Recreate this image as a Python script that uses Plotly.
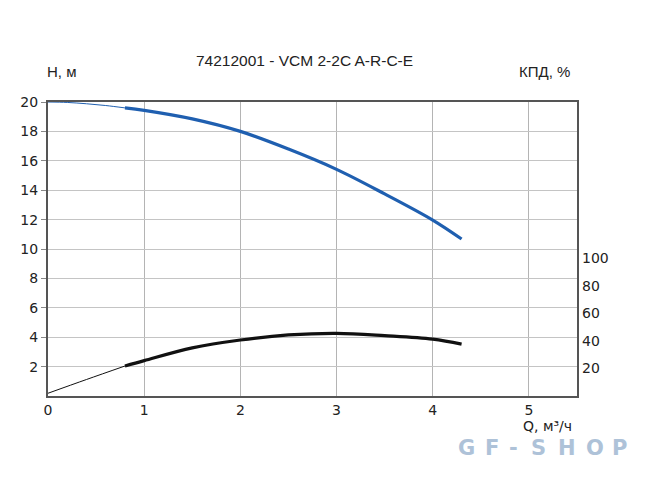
import plotly.graph_objects as go

# Head curve H, m
q_head_thin = [0.0, 0.2, 0.4, 0.6, 0.8]
h_head_thin = [20.0, 19.97, 19.88, 19.76, 19.6]
q_head = [0.8, 1.0, 1.5, 2.0, 2.5, 3.0, 3.5, 4.0, 4.3]
h_head = [19.6, 19.43, 18.85, 18.0, 16.8, 15.42, 13.75, 11.97, 10.68]

# Efficiency curve, %
q_eff_thin = [0.0, 0.4, 0.8]
eff_thin = [2.0, 12.0, 21.8]
q_eff = [0.8, 1.0, 1.5, 2.0, 2.5, 3.0, 3.5, 4.0, 4.3]
eff = [21.8, 25.7, 35.0, 40.7, 44.4, 45.6, 43.9, 41.3, 37.7]

x_ticks = [0, 1, 2, 3, 4, 5]
y_ticks = [2, 4, 6, 8, 10, 12, 14, 16, 18, 20]
y2_ticks = [20, 40, 60, 80, 100]

title = "74212001 - VCM 2-2C A-R-C-E"
watermark = "GF-SHOP"

W, H = 650, 486
L, R, T, B = 48, 73, 102, 90
PW, PH = W - L - R, H - T - B

BLUE = "#1f5fb0"
fig = go.Figure()
fig.add_trace(go.Scatter(x=q_head_thin, y=h_head_thin, mode="lines",
                         line=dict(color=BLUE, width=1, shape="spline"), showlegend=False))
fig.add_trace(go.Scatter(x=q_head, y=h_head, mode="lines",
                         line=dict(color=BLUE, width=3.2, shape="spline"), showlegend=False))
fig.add_trace(go.Scatter(x=q_eff_thin, y=eff_thin, mode="lines", yaxis="y2",
                         line=dict(color="#111111", width=1, shape="spline"), showlegend=False))
fig.add_trace(go.Scatter(x=q_eff, y=eff, mode="lines", yaxis="y2",
                         line=dict(color="#111111", width=3.2, shape="spline"), showlegend=False))

tick_font = dict(family="DejaVu Sans", size=14, color="#222222")
fig.update_layout(
    width=W, height=H,
    margin=dict(l=L, r=R, t=T, b=B, autoexpand=False),
    paper_bgcolor="white", plot_bgcolor="white",
    xaxis=dict(range=[0, 5.5], tickvals=x_ticks, showgrid=True, gridcolor="#b4b4b4", gridwidth=1,
               showline=True, linecolor="#555555", linewidth=2, mirror=True, zeroline=False,
               ticks="", tickfont=tick_font, fixedrange=True, automargin=False),
    yaxis=dict(range=[0, 20], tickvals=y_ticks, showgrid=True, gridcolor="#c4c4c4", gridwidth=1,
               showline=True, linecolor="#555555", linewidth=2, mirror=True, zeroline=False,
               ticks="outside", ticklen=5, tickcolor="#888888", tickfont=tick_font, fixedrange=True,
               automargin=False),
    yaxis2=dict(range=[0, 213.8], tickvals=y2_ticks, overlaying="y", side="right",
                showgrid=False, showline=False, zeroline=False, ticks="", ticklabelstandoff=4,
                tickfont=tick_font, fixedrange=True, automargin=False),
)


def px(xp, yp):
    return (xp - L) / PW, (H - B - yp) / PH


ann = [
    dict(text=title, x=304, y=61, font=dict(family="Liberation Sans", size=15.5, color="#222222")),
    dict(text="H, м", x=61, y=71, font=dict(family="Liberation Sans", size=15, color="#222222")),
    dict(text="КПД, %", x=544, y=71, font=dict(family="Liberation Sans", size=15, color="#222222")),
    dict(text="Q, м³/ч", x=547, y=426, font=dict(family="DejaVu Sans", size=14, color="#222222")),
]
for a in ann:
    ax, ay = px(a["x"], a["y"])
    fig.add_annotation(text=a["text"], x=ax, y=ay, xref="paper", yref="paper",
                       xanchor="center", yanchor="middle", showarrow=False, font=a["font"])

# watermark letters spread out
wm_x = [466, 492, 513, 538, 567, 595, 619]
for ch, xc in zip(watermark, wm_x):
    ax, ay = px(xc, 448)
    fig.add_annotation(text="<b>" + ch + "</b>", x=ax, y=ay, xref="paper", yref="paper",
                       xanchor="center", yanchor="middle", showarrow=False,
                       font=dict(family="DejaVu Sans", size=21, color="#aec2d8"))

fig.write_html("out.html", config={"displayModeBar": False},
               post_script="document.body.style.margin='0px';")
